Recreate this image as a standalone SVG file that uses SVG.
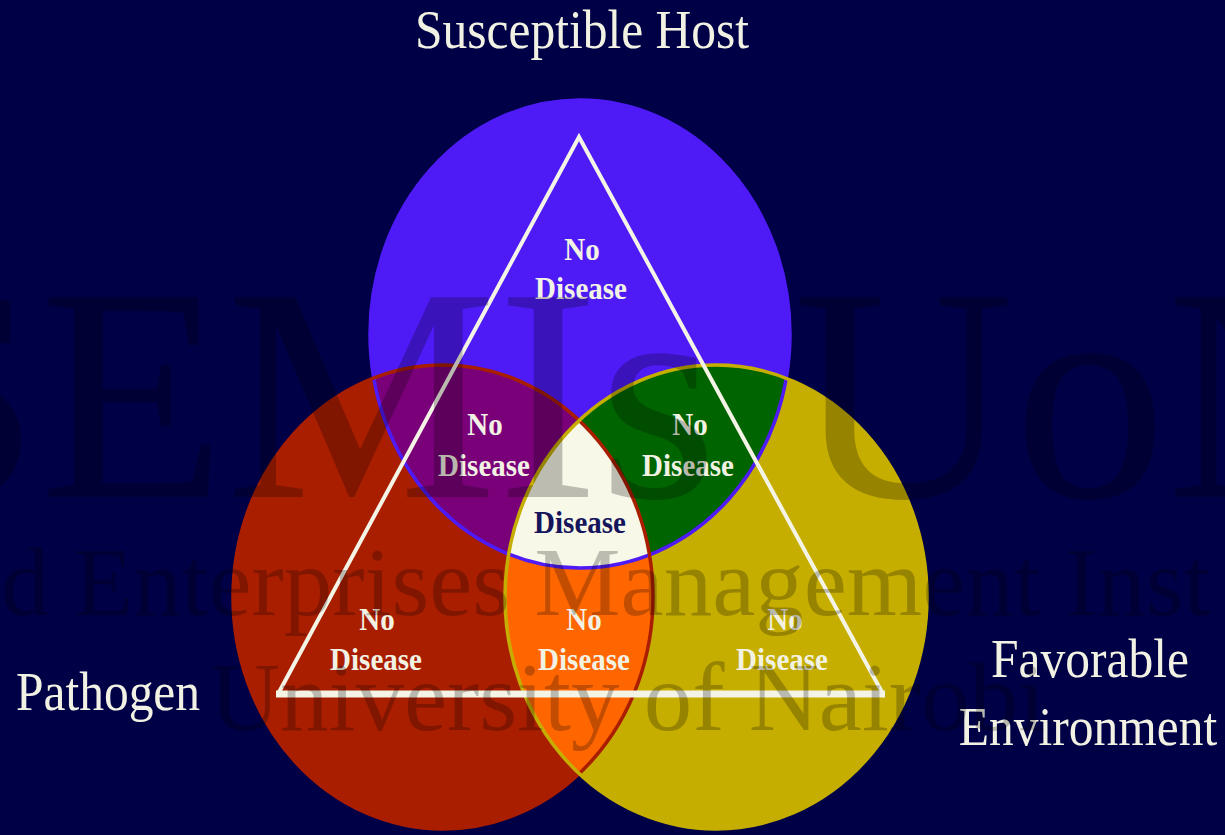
<svg xmlns="http://www.w3.org/2000/svg" width="1225" height="835" viewBox="0 0 1225 835">
  <style>
    .big { font-family: "Liberation Serif", "Times New Roman", serif; font-size: 49.5px; fill: #F2F2E4; text-anchor: middle; }
    .lbl { font-family: "Liberation Serif", "Times New Roman", serif; font-size: 29px; font-weight: bold; fill: #F2F2E4; text-anchor: middle; }
    .dis { fill: #15155C; }
    .wm { font-family: "Liberation Serif", "Times New Roman", serif; fill: #000000; fill-opacity: 0.24; }
  </style>
  <defs>
    <clipPath id="cB"><ellipse cx="580" cy="334" rx="210" ry="234"/></clipPath>
    <clipPath id="cR"><ellipse cx="443" cy="597" rx="210" ry="232"/></clipPath>
  </defs>
  <rect x="0" y="0" width="1225" height="835" fill="#000046"/>

  <g id="host">
    <ellipse cx="580" cy="334" rx="210" ry="234" fill="#4E1AF6"/>
  </g>
  <g id="pathogen">
    <ellipse cx="443" cy="597" rx="210" ry="232" fill="#AA1E00"/>
  </g>
  <g id="environment">
    <ellipse cx="716" cy="597" rx="211" ry="232" fill="#C6AE00"/>
  </g>
  <g id="overlaps">
    <ellipse cx="443" cy="597" rx="210" ry="232" fill="#7A007A" clip-path="url(#cB)"/>
    <ellipse cx="716" cy="597" rx="211" ry="232" fill="#006400" clip-path="url(#cB)"/>
    <ellipse cx="716" cy="597" rx="211" ry="232" fill="#FF6600" clip-path="url(#cR)"/>
    <g clip-path="url(#cR)">
      <ellipse cx="716" cy="597" rx="211" ry="232" fill="#F8F8E8" clip-path="url(#cB)"/>
    </g>
  </g>
  <g id="outlines" fill="none" stroke-width="3.5">
    <ellipse cx="580" cy="334" rx="210" ry="234" stroke="#4E1AF6"/>
    <ellipse cx="443" cy="597" rx="210" ry="232" stroke="#AA1E00"/>
    <ellipse cx="716" cy="597" rx="211" ry="232" stroke="#C6AE00"/>
  </g>

  <g id="connectors" stroke="#F4F4E6" fill="none" stroke-linejoin="miter">
    <path d="M278,694 L579,137 L883,694" stroke-width="4"/>
    <line x1="276" y1="694" x2="885" y2="694" stroke-width="7"/>
  </g>

  <g id="labels">
    <text class="lbl" transform="translate(582,260) scale(1,1.1)">No</text>
    <text class="lbl" transform="translate(581,299) scale(1,1.1)">Disease</text>
    <text class="lbl" transform="translate(485,435) scale(1,1.1)">No</text>
    <text class="lbl" transform="translate(484,476) scale(1,1.1)">Disease</text>
    <text class="lbl" transform="translate(690,435) scale(1,1.1)">No</text>
    <text class="lbl" transform="translate(688,476) scale(1,1.1)">Disease</text>
    <text class="lbl dis" transform="translate(580,533) scale(1,1.1)">Disease</text>
    <text class="lbl" transform="translate(377,630) scale(1,1.1)">No</text>
    <text class="lbl" transform="translate(376,670) scale(1,1.1)">Disease</text>
    <text class="lbl" transform="translate(584,630) scale(1,1.1)">No</text>
    <text class="lbl" transform="translate(584,670) scale(1,1.1)">Disease</text>
    <text class="lbl" transform="translate(785,630) scale(1,1.1)">No</text>
    <text class="lbl" transform="translate(782,670) scale(1,1.1)">Disease</text>
  </g>

  <g id="titles">
    <text class="big" transform="translate(582,48) scale(1,1.1)">Susceptible Host</text>
    <text class="big" transform="translate(108,710) scale(1,1.1)">Pathogen</text>
    <text class="big" transform="translate(1090,677) scale(1,1.1)">Favorable</text>
    <text class="big" transform="translate(1088,745) scale(1,1.1)">Environment</text>
  </g>

  <g id="watermark">
    <text class="wm" x="-130" y="497" font-size="305">SEMIs UoN</text>
    <text class="wm" x="1" y="615" font-size="97">d Enterprises Management Inst</text>
    <text class="wm" x="210" y="730" font-size="97">University of Nairobi</text>
  </g>
</svg>
